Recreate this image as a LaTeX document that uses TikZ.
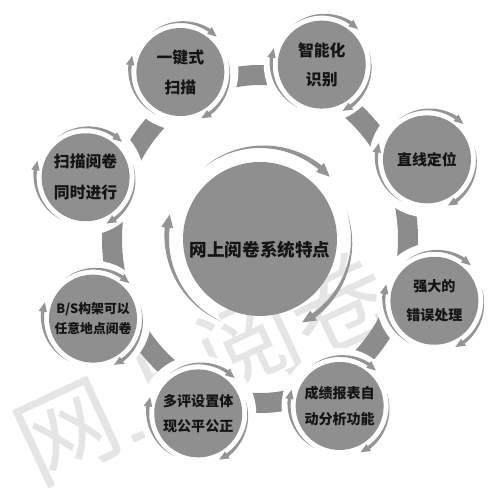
\documentclass[tikz,border=0pt]{standalone}
\usepackage{fontspec}
\setmainfont{Noto Sans CJK SC}
\begin{document}
\begin{tikzpicture}[x=0.02cm,y=0.02cm]

        \def \ringr {185}
        \def \gapr {58}

        \definecolor{diskgray}{gray}{0.56}
        \definecolor{arrowgray}{gray}{0.58}
        \definecolor{bandgray}{gray}{0.55}
        \definecolor{labelgray}{gray}{0.08}
        \definecolor{markgray}{gray}{0.9}

        \tikzset{hub/.style={circle,fill=diskgray,inner sep=0pt,minimum size=3.08cm},
                 feature/.style={circle,fill=diskgray,inner sep=0pt,minimum size=1.76cm,
                                 align=center,text=labelgray}}

        \useasboundingbox (-260,-261) rectangle (240,239);

        % tapered circular arrow: centre, radius, start, end, thickness
        \def \cyclearrow#1#2#3#4#5{%
            \fill[arrowgray, shift={(#1)}]
                plot[domain=0:1, samples=30] ({#3+(#4-#3)*\x}:{#2})
                -- ({#4}:{#2-0.7*#5})
                -- ({#4-2.6*#5*57.3/#2}:{#2+0.5*#5})
                -- ({#4}:{#2+1.7*#5})
                -- plot[domain=0:1, samples=30] ({#4+(#3-#4)*\x}:{#2+#5*(1-\x)})
                -- cycle;
        }

        % watermark
        \node (mark) at (-57,-127) [rotate=25, text=markgray,
                                    font=\fontsize{57}{60}\selectfont] {网上阅卷};

        % Draw ring
        \draw[bandgray, line width=0.4cm] (0,0) ellipse [x radius=148, y radius=164];

        % Draw hub
        \node (hub) at (0,0) [hub] {};
        \cyclearrow{hub.center}{91}{128}{50}{5}
        \cyclearrow{hub.center}{91}{17}{-55}{5}
        \cyclearrow{hub.center}{91}{245}{173}{5}
        \node (title) at (0,-11) [text=labelgray, font=\bfseries\fontsize{10}{12}\selectfont] {网上阅卷系统特点};

        % Draw features
        \foreach \ang/\fs/\ls/\txt [count=\i] in {
                115.5/9/17/{一键式\\扫描},
                70.5/9/16.5/{智能化\\识别},
                25.5/8.5/12/{直线定位},
                -19.5/8/16.5/{强大的\\错误处理},
                -64.5/8/14.5/{成绩报表自\\动分析功能},
                -109.5/8/14/{多评设置体\\现公平公正},
                -154.5/7.3/11.5/{B/S构架可以\\任意地点阅卷},
                160.5/9/17.5/{扫描阅卷\\同时进行}} {
            \fill[white] (\ang:\ringr) circle (\gapr);
            \node (f-\i) at (\ang:\ringr) [feature, font=\bfseries\fontsize{\fs}{\ls}\selectfont] {\txt};
            \cyclearrow{f-\i.center}{49}{125}{55}{3.5}
            \cyclearrow{f-\i.center}{49}{15}{-55}{3.5}
            \cyclearrow{f-\i.center}{49}{240}{172}{3.5}
        }

    \end{tikzpicture}
\end{document}
